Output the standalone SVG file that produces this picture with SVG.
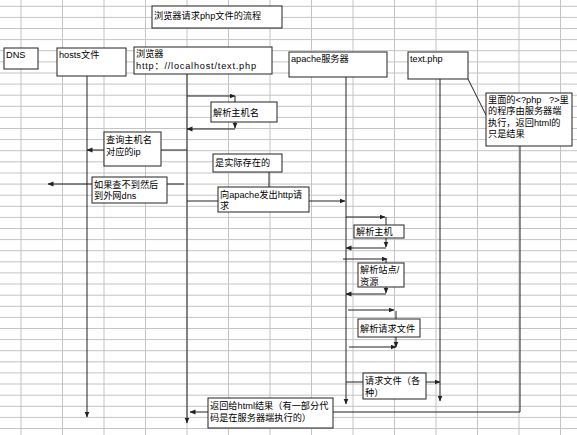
<svg xmlns="http://www.w3.org/2000/svg" width="577" height="435" viewBox="0 0 577 435">
<style>
.grid line{stroke:#c4c4c4;stroke-width:1}
.box{fill:#fff;stroke:#222;stroke-width:1}
.t{font-family:"Liberation Sans","Noto Sans CJK SC",sans-serif;font-size:9.2px;fill:#000;white-space:pre}
.c line,.c polyline{stroke:#222;stroke-width:1;fill:none}
.a{marker-end:url(#ah)}
</style>
<defs>
<marker id="ah" markerUnits="userSpaceOnUse" markerWidth="6" markerHeight="6" refX="5.5" refY="2.5" orient="auto">
<path d="M0,0 L6,2.5 L0,5 z" fill="#222"/>
</marker>
</defs>
<rect width="577" height="435" fill="#fff"/>
<g class="grid">
<line x1="21" y1="0" x2="21" y2="435"/><line x1="62.5" y1="0" x2="62.5" y2="435"/><line x1="104" y1="0" x2="104" y2="435"/><line x1="145.5" y1="0" x2="145.5" y2="435"/><line x1="187" y1="0" x2="187" y2="435"/><line x1="228.5" y1="0" x2="228.5" y2="435"/><line x1="270" y1="0" x2="270" y2="435"/><line x1="311.5" y1="0" x2="311.5" y2="435"/><line x1="353" y1="0" x2="353" y2="435"/><line x1="394.5" y1="0" x2="394.5" y2="435"/><line x1="436" y1="0" x2="436" y2="435"/><line x1="477.5" y1="0" x2="477.5" y2="435"/><line x1="519" y1="0" x2="519" y2="435"/><line x1="560.5" y1="0" x2="560.5" y2="435"/>
<line x1="0" y1="6.3" x2="577" y2="6.3"/><line x1="0" y1="17.4" x2="577" y2="17.4"/><line x1="0" y1="28.5" x2="577" y2="28.5"/><line x1="0" y1="39.6" x2="577" y2="39.6"/><line x1="0" y1="50.7" x2="577" y2="50.7"/><line x1="0" y1="61.9" x2="577" y2="61.9"/><line x1="0" y1="73" x2="577" y2="73"/><line x1="0" y1="84.1" x2="577" y2="84.1"/><line x1="0" y1="95.2" x2="577" y2="95.2"/><line x1="0" y1="106.3" x2="577" y2="106.3"/><line x1="0" y1="117.4" x2="577" y2="117.4"/><line x1="0" y1="128.5" x2="577" y2="128.5"/><line x1="0" y1="139.6" x2="577" y2="139.6"/><line x1="0" y1="150.7" x2="577" y2="150.7"/><line x1="0" y1="161.8" x2="577" y2="161.8"/><line x1="0" y1="173" x2="577" y2="173"/><line x1="0" y1="184.1" x2="577" y2="184.1"/><line x1="0" y1="195.2" x2="577" y2="195.2"/><line x1="0" y1="206.3" x2="577" y2="206.3"/><line x1="0" y1="217.4" x2="577" y2="217.4"/><line x1="0" y1="228.5" x2="577" y2="228.5"/><line x1="0" y1="239.6" x2="577" y2="239.6"/><line x1="0" y1="250.7" x2="577" y2="250.7"/><line x1="0" y1="261.8" x2="577" y2="261.8"/><line x1="0" y1="272.9" x2="577" y2="272.9"/><line x1="0" y1="284" x2="577" y2="284"/><line x1="0" y1="295.2" x2="577" y2="295.2"/><line x1="0" y1="306.3" x2="577" y2="306.3"/><line x1="0" y1="317.4" x2="577" y2="317.4"/><line x1="0" y1="328.5" x2="577" y2="328.5"/><line x1="0" y1="339.6" x2="577" y2="339.6"/><line x1="0" y1="350.7" x2="577" y2="350.7"/><line x1="0" y1="361.8" x2="577" y2="361.8"/><line x1="0" y1="372.9" x2="577" y2="372.9"/><line x1="0" y1="384" x2="577" y2="384"/><line x1="0" y1="395.2" x2="577" y2="395.2"/><line x1="0" y1="406.3" x2="577" y2="406.3"/><line x1="0" y1="417.4" x2="577" y2="417.4"/><line x1="0" y1="428.5" x2="577" y2="428.5"/>
</g>
<g class="c" id="connectors">
<line x1="87" y1="76" x2="87" y2="417" class="a"/>
<line x1="187" y1="74" x2="187" y2="423" class="a"/>
<line x1="346" y1="77" x2="346" y2="404" class="a"/>
<line x1="440" y1="79" x2="440" y2="401" class="a"/>
<line x1="468" y1="79" x2="486" y2="115"/>
<polyline points="520,146 520,412 333,412"/>
<line x1="187" y1="96" x2="235" y2="96" class="a"/>
<line x1="235" y1="96" x2="235" y2="102"/>
<line x1="235" y1="122" x2="235" y2="128" class="a"/>
<line x1="235" y1="129" x2="187" y2="129" class="a"/>
<line x1="187" y1="150" x2="161" y2="150"/>
<line x1="104" y1="150" x2="87" y2="150" class="a"/>
<line x1="184" y1="184" x2="167" y2="184"/>
<line x1="92" y1="184" x2="48" y2="184" class="a"/>
<line x1="269" y1="172" x2="269" y2="187"/>
<line x1="187" y1="201" x2="218" y2="201"/>
<line x1="309" y1="201" x2="345" y2="201" class="a"/>
<line x1="346" y1="217" x2="385" y2="217" class="a"/>
<line x1="386" y1="217" x2="386" y2="225"/>
<line x1="386" y1="238" x2="386" y2="247" class="a"/>
<line x1="386" y1="248" x2="346" y2="248" class="a"/>
<line x1="343" y1="259" x2="387" y2="259" class="a"/>
<line x1="386" y1="259" x2="386" y2="263"/>
<line x1="386" y1="287" x2="386" y2="293" class="a"/>
<line x1="386" y1="294" x2="346" y2="294" class="a"/>
<line x1="348" y1="310" x2="394" y2="310" class="a"/>
<line x1="396" y1="311" x2="396" y2="319"/>
<line x1="396" y1="337" x2="396" y2="347" class="a"/>
<line x1="349" y1="347" x2="396" y2="347" class="a"/>
<line x1="346" y1="382" x2="363" y2="382"/>
<line x1="426" y1="382" x2="440" y2="382" class="a"/>
<line x1="208" y1="412" x2="190" y2="412" class="a"/>
</g>
<g id="title"><rect class="box" x="152" y="6" width="130" height="22"/><text class="t" x="154" y="18.5">浏览器请求php文件的流程</text></g>
<g id="dns"><rect class="box" x="4" y="48" width="34" height="21"/><text class="t" x="6" y="58">DNS</text></g>
<g id="hosts"><rect class="box" x="57" y="48" width="69" height="28"/><text class="t" x="59" y="58">hosts文件</text></g>
<g id="browser"><rect class="box" x="134" y="47" width="138" height="27"/><text class="t" x="136" y="57">浏览器</text><text class="t" x="136" y="68.5" textLength="120" lengthAdjust="spacing">http：//localhost/text.php</text></g>
<g id="apache"><rect class="box" x="289" y="52" width="98" height="25"/><text class="t" x="291" y="62">apache服务器</text></g>
<g id="textphp"><rect class="box" x="408" y="52" width="60" height="27"/><text class="t" x="410" y="62">text.php</text></g>
<g id="note"><rect class="box" x="486" y="93" width="86" height="53"/><text class="t" x="488" y="102.5">里面的&lt;?php&#160;&#160;&#160;?&gt;里</text><text class="t" x="488" y="114">的程序由服务器端</text><text class="t" x="488" y="125.5">执行，返回html的</text><text class="t" x="488" y="137">只是结果</text></g>
<g id="parse-host"><rect class="box" x="211" y="102" width="66" height="20"/><text class="t" x="213" y="115.5">解析主机名</text></g>
<g id="query-ip"><rect class="box" x="104" y="132" width="57" height="34"/><text class="t" x="106" y="143">查询主机名</text><text class="t" x="106" y="155">对应的ip</text></g>
<g id="dns-fallback"><rect class="box" x="92" y="177" width="75" height="26"/><text class="t" x="94" y="187.5">如果查不到然后</text><text class="t" x="94" y="199">到外网dns</text></g>
<g id="exists"><rect class="box" x="213" y="154" width="69" height="18"/><text class="t" x="215" y="166">是实际存在的</text></g>
<g id="send-http"><rect class="box" x="218" y="187" width="91" height="25"/><text class="t" x="220" y="197.5">向apache发出http请</text><text class="t" x="220" y="209">求</text></g>
<g id="apache-host"><rect class="box" x="354" y="225" width="50" height="13"/><text class="t" x="356" y="235">解析主机</text></g>
<g id="apache-site"><rect class="box" x="358" y="263" width="46" height="24"/><text class="t" x="360" y="273">解析站点/</text><text class="t" x="360" y="284.5">资源</text></g>
<g id="apache-file"><rect class="box" x="358" y="319" width="62" height="18"/><text class="t" x="360" y="331.5">解析请求文件</text></g>
<g id="request-file"><rect class="box" x="363" y="373" width="63" height="26"/><text class="t" x="365" y="384">请求文件（各</text><text class="t" x="365" y="395.5">种）</text></g>
<g id="return"><rect class="box" x="208" y="398" width="125" height="30"/><text class="t" x="210" y="409">返回给html结果（有一部分代</text><text class="t" x="210" y="421">码是在服务器端执行的）</text></g>
</svg>
